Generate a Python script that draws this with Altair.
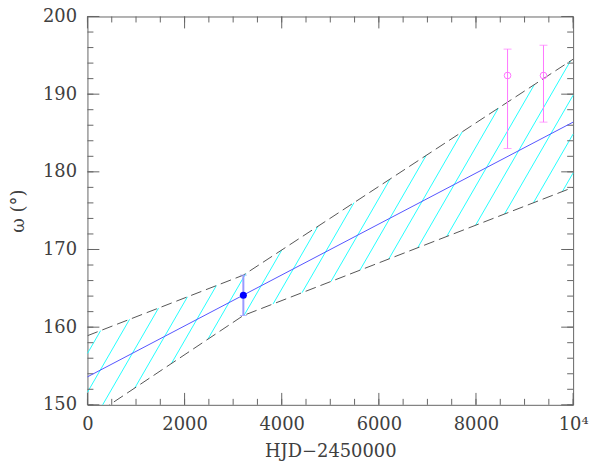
import altair as alt
import pandas as pd
import numpy as np

# ---- axis ticks ----
x_major = [0, 2000, 4000, 6000, 8000, 10000]
x_minor = [0, 500, 1000, 1500, 2000, 2500, 3000, 3500, 4000, 4500, 5000,
           5500, 6000, 6500, 7000, 7500, 8000, 8500, 9000, 9500, 10000]
y_major = [150, 160, 170, 180, 190, 200]
y_minor = [150, 152, 154, 156, 158, 160, 162, 164, 166, 168, 170, 172, 174,
           176, 178, 180, 182, 184, 186, 188, 190, 192, 194, 196, 198, 200]

# ---- fitted line ----
fit_x = [0, 10000]
fit_y = [153.6, 186.4]

# ---- envelope (dashed) ----
env_x = [0, 3210, 10000]
env_upper = [158.9, 166.7, 194.5]
env_lower = [148.1, 161.5, 178.0]

# ---- blue measurement ----
blue_x = [3210]
blue_y = [164.1]
blue_lo = [161.5]
blue_hi = [166.7]

# ---- magenta measurements ----
mag_x = [8650, 9390]
mag_y = [192.4, 192.4]
mag_lo = [183.0, 186.4]
mag_hi = [195.8, 196.3]

# ---- hatch style (60 deg on screen) ----
hatch_slope = 0.01083
hatch_step = 462.0
hatch_origin = 313.0

XMIN, XMAX, YMIN, YMAX = 0, 10000, 150, 200
W, H = 489, 391
MAJ, MIN = 12, 6


def cross(c, xs, ys):
    k = hatch_slope
    for i in range(len(xs) - 1):
        s = (ys[i + 1] - ys[i]) / (xs[i + 1] - xs[i])
        x = (ys[i] - s * xs[i] - YMIN + k * c) / (k - s)
        lo = xs[i] if i > 0 else -np.inf
        hi = xs[i + 1] if i < len(xs) - 2 else np.inf
        if lo <= x <= hi:
            return x
    return None


rows = []
for n in range(-6, 30):
    c = hatch_origin + n * hatch_step
    xs_ = max(cross(c, env_x, env_lower), XMIN, c)
    xe_ = min(cross(c, env_x, env_upper), XMAX, c + (YMAX - YMIN) / hatch_slope)
    if xs_ < xe_:
        rows.append({"x0": xs_, "y0": YMIN + hatch_slope * (xs_ - c),
                     "x1": xe_, "y1": YMIN + hatch_slope * (xe_ - c)})
hatch = pd.DataFrame(rows)

fit_df = pd.DataFrame({"x": fit_x, "y": fit_y})
env_df = pd.DataFrame({
    "x": env_x + env_x,
    "y": env_upper + env_lower,
    "side": ["upper"] * len(env_x) + ["lower"] * len(env_x),
})
blue_df = pd.DataFrame({"x": blue_x, "y": blue_y, "lo": blue_lo, "hi": blue_hi})
mag_df = pd.DataFrame({"x": mag_x, "y": mag_y, "lo": mag_lo, "hi": mag_hi})

xs = alt.Scale(domain=[XMIN, XMAX], nice=False, zero=False)
ys = alt.Scale(domain=[YMIN, YMAX], nice=False, zero=False)

FONT = "DejaVu Serif"
TXT = "#404040"
TICK = "#666666"

ax_x = alt.Axis(orient="bottom", values=x_major, ticks=False, labelPadding=11,
                format="d", labelExpr="datum.value >= 10000 ? '10⁴' : datum.label",
                title="HJD−2450000", titlePadding=9)
ax_y = alt.Axis(orient="left", values=y_major, ticks=False, labelPadding=11,
                format="d", title="ω (°)", titlePadding=15)


def X(field):
    return alt.X(field, scale=xs, axis=ax_x)


def Y(field):
    return alt.Y(field, scale=ys, axis=ax_y)


hatch_layer = alt.Chart(hatch).mark_rule(color="#22ffff", strokeWidth=1).encode(
    x=X("x0:Q"), y=Y("y0:Q"), x2="x1:Q", y2="y1:Q",
)

# inward tick marks on all four sides, placed by the x / y scales
xmaj_df = pd.DataFrame({"v": x_major})
xmin_df = pd.DataFrame({"v": x_minor})
ymaj_df = pd.DataFrame({"v": y_major})
ymin_df = pd.DataFrame({"v": y_minor})


def xticks(df, length):
    base = alt.Chart(df).mark_rule(color=TICK, strokeWidth=1)
    return [
        base.encode(x=X("v:Q"), y=alt.value(H), y2=alt.value(H - length)),
        base.encode(x=X("v:Q"), y=alt.value(0), y2=alt.value(length)),
    ]


def yticks(df, length):
    base = alt.Chart(df).mark_rule(color=TICK, strokeWidth=1)
    return [
        base.encode(y=Y("v:Q"), x=alt.value(0), x2=alt.value(length)),
        base.encode(y=Y("v:Q"), x=alt.value(W), x2=alt.value(W - length)),
    ]


tick_layers = (xticks(xmaj_df, MAJ) + xticks(xmin_df, MIN)
               + yticks(ymaj_df, MAJ) + yticks(ymin_df, MIN))

env_layer = alt.Chart(env_df).mark_line(
    color="#555555", strokeWidth=1, strokeDash=[11, 5], clip=True
).encode(x=X("x:Q"), y=Y("y:Q"), detail="side:N")

fit_layer = alt.Chart(fit_df).mark_line(color="#5555ff", strokeWidth=1).encode(
    x=X("x:Q"), y=Y("y:Q"))

BLUE_ERR = "#9a9aff"
blue_err = alt.Chart(blue_df).mark_rule(color=BLUE_ERR, strokeWidth=2).encode(
    x=X("x:Q"), y=Y("lo:Q"), y2="hi:Q")
blue_cap_lo = alt.Chart(blue_df).mark_tick(orient="horizontal", size=7, thickness=1,
                                           color=BLUE_ERR).encode(x=X("x:Q"), y=Y("lo:Q"))
blue_cap_hi = alt.Chart(blue_df).mark_tick(orient="horizontal", size=7, thickness=1,
                                           color=BLUE_ERR).encode(x=X("x:Q"), y=Y("hi:Q"))
blue_pt = alt.Chart(blue_df).mark_point(shape="circle", filled=True, size=50,
                                        color="#0000ff", opacity=1).encode(
    x=X("x:Q"), y=Y("y:Q"))

MAG = "#ff77ff"
mag_err = alt.Chart(mag_df).mark_rule(color=MAG, strokeWidth=1).encode(
    x=X("x:Q"), y=Y("lo:Q"), y2="hi:Q")
mag_cap_lo = alt.Chart(mag_df).mark_tick(orient="horizontal", size=8, thickness=1,
                                         color=MAG).encode(x=X("x:Q"), y=Y("lo:Q"))
mag_cap_hi = alt.Chart(mag_df).mark_tick(orient="horizontal", size=8, thickness=1,
                                         color=MAG).encode(x=X("x:Q"), y=Y("hi:Q"))
mag_pt = alt.Chart(mag_df).mark_point(shape="circle", filled=False, size=45,
                                      color=MAG, strokeWidth=1, opacity=1).encode(
    x=X("x:Q"), y=Y("y:Q"))

chart = alt.layer(
    hatch_layer, *tick_layers, env_layer, fit_layer,
    blue_err, blue_cap_lo, blue_cap_hi, blue_pt,
    mag_err, mag_cap_lo, mag_cap_hi, mag_pt,
).properties(
    width=W, height=H,
    autosize=alt.AutoSizeParams(type="none"),
    padding={"left": 80, "top": 7, "right": 17, "bottom": 55},
    background="white",
).configure_view(
    stroke="#666666", strokeWidth=1
).configure_axis(
    grid=False, domain=False,
    labelFont=FONT, labelFontSize=18, labelColor=TXT,
    titleFont=FONT, titleFontSize=18, titleColor=TXT, titleFontWeight="normal",
    labelFlush=False, labelOverlap=False,
)

chart.save("out.html", embed_options={"renderer": "svg", "actions": False})
